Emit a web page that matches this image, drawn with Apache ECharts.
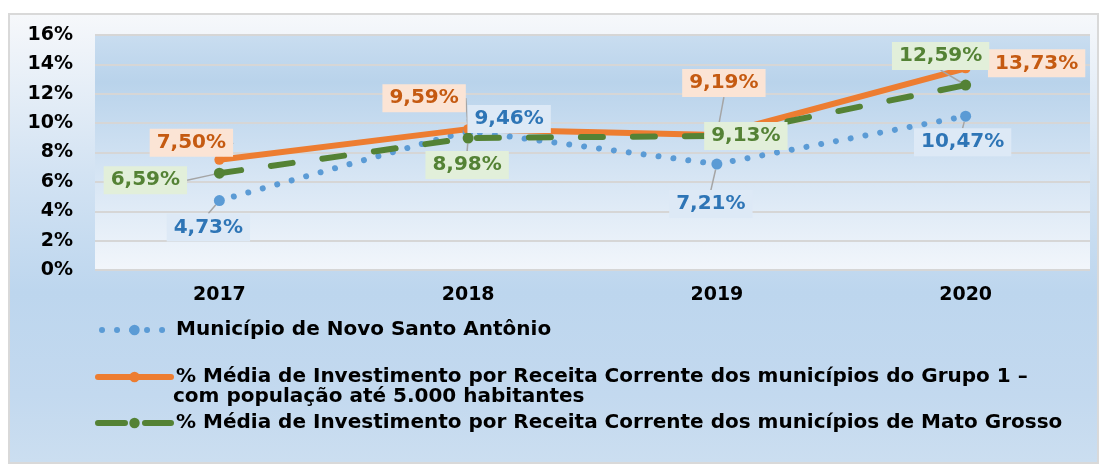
<!DOCTYPE html>
<html>
<head>
<meta charset="utf-8">
<script src="https://cdn.jsdelivr.net/npm/echarts@6/dist/echarts.min.js"></script>
<style>
  html, body { margin: 0; padding: 0; background: #ffffff; }
  #frame {
    position: absolute; left: 8px; top: 13px; width: 1087px; height: 447px;
    border: 2px solid #d9d9d9;
    background: linear-gradient(to bottom, #f6f8fb 0%, #eef3f9 8%, #d3e3f3 35%, #bdd6ee 62%, #c3d9ef 85%, #cbdef0 100%);
  }
  #chart { position: absolute; left: 0; top: 0; width: 1105px; height: 464px; }
</style>
</head>
<body>
<div id="frame"></div>
<div id="chart"></div>
<script>
// Investment as % of current revenue, 2017-2020
const years = ['2017', '2018', '2019', '2020'];
const novoSantoAntonio = [4.73, 9.46, 7.21, 10.47];
const grupo1 = [7.50, 9.59, 9.19, 13.73];
const matoGrosso = [6.59, 8.98, 9.13, 12.59];

const yMin = 0, yMax = 16, yStep = 2;

const names = [
  'Município de Novo Santo Antônio',
  '% Média de Investimento por Receita Corrente dos municípios do Grupo 1 – com população até 5.000 habitantes',
  '% Média de Investimento por Receita Corrente dos municípios de Mato Grosso'
];
// the long legend entry wraps onto a second line
const grupo1Line1 = '% Média de Investimento por Receita Corrente dos municípios do Grupo 1 –';
const grupo1Line2 = 'com população até 5.000 habitantes';

// where each value label sits, relative to its point (dx, dy of the box centre)
const labelShift = [
  [[-11, 27], [41, -12], [-6, 40], [-3, 26]],
  [[-28, -17], [-44, -31], [7, -52], [71, -5]],
  [[-74, 7], [-1, 27], [29, 0], [-25, -29]]
];

const FONT = 'DejaVu Sans';
const fmt = v => v.toFixed(2).replace('.', ',') + '%';

function valueLabel(textColor, bg) {
  return {
    show: true,
    position: 'inside',
    formatter: p => fmt(p.value),
    color: textColor,
    fontFamily: FONT,
    fontWeight: 'bold',
    fontSize: 20,
    lineHeight: 21,
    backgroundColor: bg,
    padding: [4, 7, 3, 7]
  };
}

const labelLine = { show: true, lineStyle: { color: '#a5a5a5', width: 1.5 } };

const chart = echarts.init(document.getElementById('chart'), null, { renderer: 'canvas' });

const legendText = { fontFamily: FONT, fontWeight: 'bold', fontSize: 20, lineHeight: 20, color: '#000000' };
function legendAt(name, top, line, formatter) {
  return {
    data: [name], left: 95, top: top, padding: 0,
    itemWidth: 73, itemHeight: 13,
    textStyle: legendText,
    lineStyle: line,
    formatter: formatter
  };
}

chart.setOption({
  animation: false,
  backgroundColor: 'transparent',
  grid: {
    left: 95, right: 15, top: 35, bottom: 194,
    show: true, borderWidth: 0,
    backgroundColor: new echarts.graphic.LinearGradient(0, 0, 0, 1, [
      { offset: 0, color: '#c9ddf0' },
      { offset: 0.2, color: '#b9d3eb' },
      { offset: 0.6, color: '#d6e5f4' },
      { offset: 1, color: '#f2f6fb' }
    ])
  },
  xAxis: {
    type: 'category',
    data: years,
    boundaryGap: true,
    axisLine: { show: false },
    axisTick: { show: false },
    axisLabel: { color: '#000', fontFamily: FONT, fontWeight: 'bold', fontSize: 19, margin: 16 }
  },
  yAxis: {
    type: 'value',
    min: yMin, max: yMax, interval: yStep,
    axisLine: { show: false },
    axisTick: { show: false },
    axisLabel: { color: '#000', fontFamily: FONT, fontWeight: 'bold', fontSize: 19, margin: 22, formatter: '{value}%' },
    splitLine: { lineStyle: { color: '#d6d6d6', width: 2 } }
  },
  legend: [
    legendAt(names[0], 320, { width: 6, type: [0.01, 15], dashOffset: 11, cap: 'round' }),
    legendAt(names[1], 367, { width: 6, cap: 'round' }, () => grupo1Line1),
    legendAt(names[2], 413, { width: 6, type: [38, 20], cap: 'round' })
  ],
  graphic: [{
    type: 'text',
    left: 173, top: 387,
    style: { text: grupo1Line2, fill: '#000', font: 'bold 20px "DejaVu Sans"' }
  }],
  series: [
    {
      name: names[0], type: 'line', data: novoSantoAntonio,
      symbol: 'circle', symbolSize: 11,
      itemStyle: { color: '#5b9bd5' },
      lineStyle: { color: '#5b9bd5', width: 6, type: [0.01, 15], cap: 'round' },
      label: valueLabel('#2e75b6', '#dde9f6'),
      labelLine: labelLine,
      labelLayout: p => ({ dx: labelShift[0][p.dataIndex][0], dy: labelShift[0][p.dataIndex][1] })
    },
    {
      name: names[1], type: 'line', data: grupo1,
      symbol: 'circle', symbolSize: 10,
      itemStyle: { color: '#ed7d31' },
      lineStyle: { color: '#ed7d31', width: 6, cap: 'round' },
      label: valueLabel('#c55a11', '#fbe4d5'),
      labelLine: labelLine,
      labelLayout: p => ({ dx: labelShift[1][p.dataIndex][0], dy: labelShift[1][p.dataIndex][1] })
    },
    {
      name: names[2], type: 'line', data: matoGrosso,
      symbol: 'circle', symbolSize: 11,
      itemStyle: { color: '#548235' },
      lineStyle: { color: '#548235', width: 6, type: [22, 30], cap: 'round' },
      label: valueLabel('#548235', '#e2efda'),
      labelLine: labelLine,
      labelLayout: p => ({ dx: labelShift[2][p.dataIndex][0], dy: labelShift[2][p.dataIndex][1] })
    }
  ]
});
</script>
</body>
</html>
